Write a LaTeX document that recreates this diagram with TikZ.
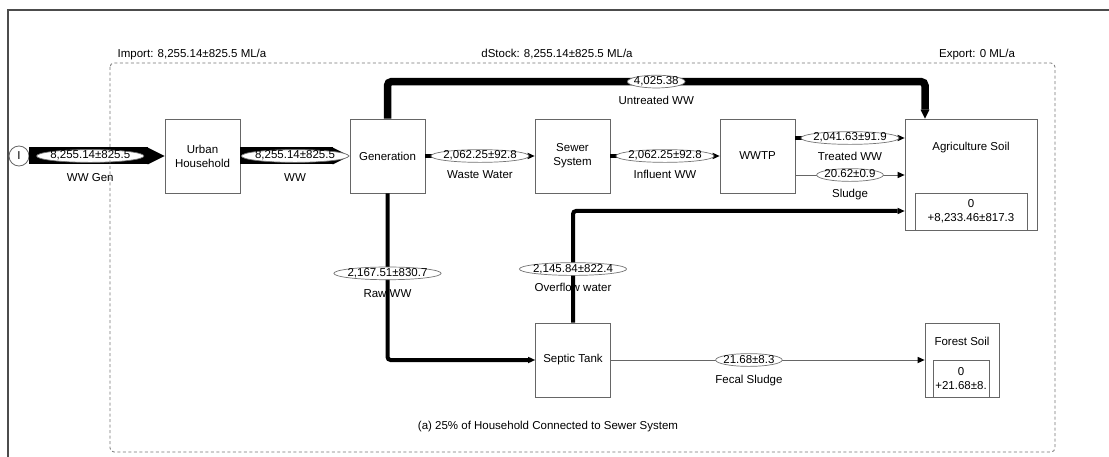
\documentclass[tikz,border=0pt]{standalone}
\usepackage{fontspec}
\setmainfont{Liberation Sans}
\usetikzlibrary{
	arrows.meta,
	shapes.geometric
}

\begin{document}
\begin{tikzpicture}[
			x=1pt, y=-1pt,
			font=\fontsize{11.5}{14}\selectfont,
			proc/.style={draw=black!60, line width=0.8pt, fill=white, minimum width=75pt, minimum height=74pt, align=center, inner sep=1pt},
			stock/.style={proc, minimum width=112pt, minimum height=37pt},
			val/.style={draw=black!55, line width=0.7pt, ellipse, fill=white, inner xsep=-2pt, inner ysep=-0.5pt, text height=8pt, text depth=2pt},
			nm/.style={inner sep=0pt, outer sep=0pt, text height=8pt, text depth=2pt},
			fl/.style={-{Triangle[length=7pt 0 0, width=6.5pt 0 0, line width=0pt 0 0, color=black]}, line width=3.5pt},
			thin/.style={fl, line width=0.6pt, draw=black!60},
			big/.style={-{Triangle[length=17pt 0 0, width=17pt 0 0, line width=0pt 0 0]}, line width=17pt},
			bnd/.style={draw=black!55, dash pattern=on 3pt off 2.5pt, line width=0.8pt, rounded corners=4pt}
		]
		\useasboundingbox (0,0) rectangle (1109,457);
		\draw[black!70, line width=1.2pt] (8,457) -- (8,10) -- (1109,10);

		\node[nm] (imp) at (192,55) {Import: 8,255.14±825.5 ML/a};
		\node[nm] (dst) at (557,55) {dStock: 8,255.14±825.5 ML/a};
		\node[nm] (exp) at (977,55) {Export: 0 ML/a};

		\node[draw=black!60, line width=0.8pt, circle, minimum size=20pt, inner sep=0pt] (src) at (19,156) {I};
		\node[proc] (uh) at (202.5,156) {Urban\\ Household};
		\node[proc] (gen) at (387.5,156) {Generation};
		\node[proc] (sew) at (572.5,156) {Sewer\\ System};
		\node[proc] (wwtp) at (757.5,156) {WWTP};
		\node[proc, minimum width=132pt, minimum height=111pt] (agri) at (971,174.5) {};
		\node[nm] (agrit) at (971,148) {Agriculture Soil};
		\node[stock] (agris) at (971,211.5) {0\\ +8,233.46±817.3};
		\node[proc] (sep) at (573,360) {Septic Tank};
		\node[proc, minimum width=74pt] (forest) at (962,360) {};
		\node[nm] (forestt) at (962,342) {Forest Soil};
		\node[stock, minimum width=56pt] (forests) at (961,378.5) {0\\ +21.68±8.};

		\draw[big] (src) -- node[val, pos=0.45] {8,255.14±825.5} node[nm, below=18pt, pos=0.45] {WW Gen} (uh);
		\draw[big] (uh) -- node[val] {8,255.14±825.5} node[nm, below=18pt] {WW} (gen);
		\draw[fl, line width=7.5pt, -{Triangle[length=9pt 0 0, width=9pt 0 0, line width=0pt 0 0]}, rounded corners=4pt] (gen.north) -- ++(0,-37) -| node[val, pos=0.25] {4,025.38} node[nm, below=15pt, pos=0.25] {Untreated WW} ([xshift=-46pt]agri.north);
		\draw[fl] (gen) -- node[val] {2,062.25±92.8} node[nm, below=15pt] {Waste Water} (sew);
		\draw[fl] (sew) -- node[val] {2,062.25±92.8} node[nm, below=15pt] {Influent WW} (wwtp);
		\draw[fl] ([yshift=18pt]wwtp.east) -- node[val] {2,041.63±91.9} node[nm, below=15pt] {Treated WW} ([yshift=18pt]wwtp.east -| agri.west);
		\draw[thin] ([yshift=-19pt]wwtp.east) -- node[val] {20.62±0.9} node[nm, below=15pt] {Sludge} ([yshift=-19pt]wwtp.east -| agri.west);
		\draw[fl, line width=4pt, rounded corners=3pt] (sep.north) |- node[val, pos=0.24] {2,145.84±822.4} node[nm, below=14pt, pos=0.24] {Overflow water} ([yshift=-36.5pt]agri.west);
		\draw[fl, line width=4pt, rounded corners=3pt] (gen.south) |- node[val, pos=0.24] {2,167.51±830.7} node[nm, below=16pt, pos=0.24] {Raw WW} (sep.west);
		\draw[thin] (sep) -- node[val, pos=0.44] {21.68±8.3} node[nm, below=15pt, pos=0.44] {Fecal Sludge} (forest);

		\node[nm] (cap) at (548,426) {(a) 25\% of Household Connected to Sewer System};
		\draw[bnd] (110,63) rectangle (1055,452);
	\end{tikzpicture}
\end{document}
